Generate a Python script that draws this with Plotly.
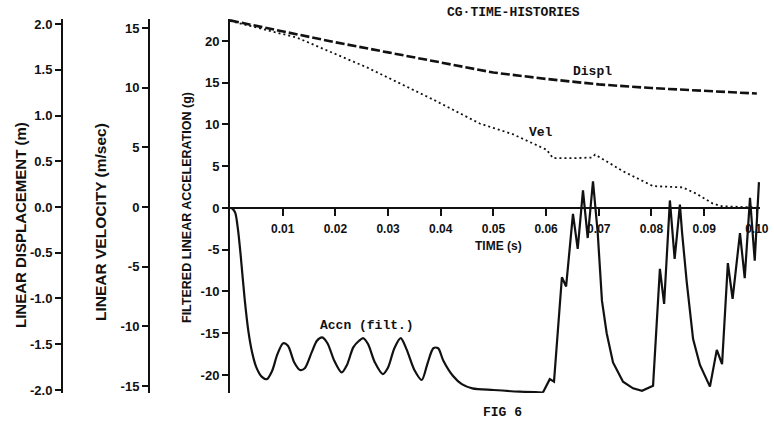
import plotly.graph_objects as go

# ---------------- data ----------------
time_ticks = [0.01, 0.02, 0.03, 0.04, 0.05, 0.06, 0.07, 0.08, 0.09, 0.10]
time_tick_text = ["0.01", "0.02", "0.03", "0.04", "0.05", "0.06", "0.07", "0.08", "0.09", "0.10"]

accel_ticks = [-20, -15, -10, -5, 0, 5, 10, 15, 20]
accel_tick_text = ["-20", "-15", "-10", "-5", "0", "5", "10", "15", "20"]
vel_ticks = [-15, -10, -5, 0, 5, 10, 15]
vel_tick_text = ["-15", "-10", "-5", "0", "5", "10", "15"]
disp_ticks = [-2.0, -1.5, -1.0, -0.5, 0.0, 0.5, 1.0, 1.5, 2.0]
disp_tick_text = ["-2.0", "-1.5", "-1.0", "-0.5", "0.0", "0.5", "1.0", "1.5", "2.0"]

# Displacement (m)
disp_t = [0.0, 0.01, 0.02, 0.03, 0.04, 0.05, 0.06, 0.07, 0.08, 0.09, 0.10]
disp_m = [2.04, 1.92, 1.80, 1.69, 1.58, 1.47, 1.40, 1.34, 1.30, 1.27, 1.24]

# Velocity (m/sec)
vel_t = [0.0, 0.0127, 0.026, 0.0386, 0.0474, 0.0537, 0.0601, 0.0613, 0.0657, 0.0687,
         0.0693, 0.0746, 0.0803, 0.0859, 0.0886, 0.0916, 0.0933, 0.1]
vel_ms = [15.6, 14.2, 11.7, 9.0, 7.0, 6.1, 4.8, 4.1, 4.1, 4.15,
          4.4, 3.0, 1.75, 1.65, 1.1, 0.30, 0.07, -0.05]

# Filtered acceleration (g) - smooth first part
acc1_t = [0.0, 0.0005, 0.001, 0.0015, 0.0020, 0.0028, 0.0035, 0.0042, 0.0050, 0.0060,
          0.0070, 0.0080, 0.0090, 0.0101, 0.0110, 0.0122, 0.0133, 0.0142, 0.0155, 0.0165,
          0.0175, 0.0185, 0.0198, 0.0212, 0.0222, 0.0234, 0.0245, 0.0253, 0.0262, 0.0275,
          0.0290, 0.0300, 0.0312, 0.0324, 0.0335, 0.0350, 0.0364, 0.0375, 0.0386, 0.0395,
          0.0405, 0.0423, 0.0440, 0.0460, 0.0500, 0.0550, 0.0594]
acc1_g = [0.0, -0.1, -0.6, -2.5, -5.5, -11.0, -14.8, -17.3, -19.1, -20.2,
          -20.5, -19.5, -17.5, -16.2, -16.5, -18.5, -19.4, -19.2, -17.3, -15.9,
          -15.5, -16.2, -18.3, -19.7, -18.8, -16.7, -15.9, -15.6, -16.3, -18.5,
          -19.9, -19.1, -16.8, -15.6, -16.9, -19.4, -20.6, -18.6, -16.8, -16.8,
          -18.3, -20.1, -21.1, -21.6, -21.8, -22.0, -22.1]

# Filtered acceleration (g) - spiky second part
acc2_t = [0.0594, 0.0607, 0.0615, 0.0630, 0.0638, 0.0651, 0.0660, 0.0670, 0.0679, 0.0689,
          0.0698, 0.0706, 0.0715, 0.0727, 0.0746, 0.0765, 0.0782, 0.0803, 0.0816, 0.0824,
          0.0835, 0.0844, 0.0854, 0.0858, 0.0867, 0.0879, 0.0892, 0.0911, 0.0924, 0.0934,
          0.0945, 0.0954, 0.0968, 0.0977, 0.0987, 0.0996, 0.1004]
acc2_g = [-22.1, -20.5, -20.8, -8.3, -9.4, -0.7, -4.9, 2.1, -3.6, 3.2,
          -3.0, -11.1, -15.0, -18.5, -20.8, -21.6, -21.9, -21.3, -7.3, -11.5,
          0.9, -6.1, 0.4, -2.9, -8.9, -15.7, -18.8, -21.4, -17.0, -18.7,
          -6.6, -10.9, -3.0, -8.4, 1.2, -6.3, 3.1]

# ---------------- figure ----------------
W, H = 774, 427
ML, MR, MT, MB = 0, 14, 19, 34
PW = W - ML - MR
PH = H - MT - MB


def px(x):
    return (x - ML) / PW


def py(y):
    return (H - MB - y) / PH


BLACK = "#111111"
sans = "Liberation Sans"
mono = "Liberation Mono"

fig = go.Figure()
fig.add_trace(go.Scatter(x=disp_t, y=disp_m, yaxis="y3", mode="lines",
                         line=dict(color=BLACK, width=2.6, dash="9px,3px"),
                         hoverinfo="skip", showlegend=False))
fig.add_trace(go.Scatter(x=vel_t, y=vel_ms, yaxis="y2", mode="lines",
                         line=dict(color=BLACK, width=1.8, dash="2px,3px"),
                         hoverinfo="skip", showlegend=False))
fig.add_trace(go.Scatter(x=acc1_t, y=acc1_g, yaxis="y", mode="lines",
                         line=dict(color=BLACK, width=2.2, shape="spline", smoothing=0.8),
                         hoverinfo="skip", showlegend=False))
fig.add_trace(go.Scatter(x=acc2_t, y=acc2_g, yaxis="y", mode="lines",
                         line=dict(color=BLACK, width=2.2),
                         hoverinfo="skip", showlegend=False))


def axis_common(ticklen=6):
    return dict(showline=True, linecolor=BLACK, linewidth=2, ticks="outside",
                tickcolor=BLACK, tickwidth=2, ticklen=ticklen, showgrid=False,
                zeroline=False, automargin=False)


fig.update_layout(
    template="none",
    width=W, height=H,
    margin=dict(l=ML, r=MR, t=MT, b=MB),
    paper_bgcolor="white", plot_bgcolor="white",
    showlegend=False,
    xaxis=dict(domain=[px(230), 1], range=[0, 0.1006], anchor="free",
               position=(H - MB - 208) / PH, side="bottom",
               tickvals=time_ticks, ticktext=time_tick_text,
               ticklabelstandoff=3,
               tickfont=dict(family=sans, size=12, color=BLACK, weight="bold"),
               **axis_common(7)),
    yaxis=dict(range=[-22.16, 22.63], anchor="x", side="left",
               tickvals=accel_ticks, ticktext=accel_tick_text,
               tickfont=dict(family=sans, size=13, color=BLACK, weight="bold"),
               **axis_common()),
    yaxis2=dict(range=[-15.59, 15.76], overlaying="y", anchor="free",
                position=px(149), side="left",
                tickvals=vel_ticks, ticktext=vel_tick_text,
                tickfont=dict(family=sans, size=13, color=BLACK, weight="bold"),
                **axis_common()),
    yaxis3=dict(range=[-2.033, 2.055], overlaying="y", anchor="free",
                position=px(62), side="left",
                tickvals=disp_ticks, ticktext=disp_tick_text,
                tickfont=dict(family=sans, size=13, color=BLACK, weight="bold"),
                **axis_common()),
)


def note(text, x, y, family, size, angle=0):
    fig.add_annotation(text=text, x=px(x), y=py(y), xref="paper", yref="paper",
                       showarrow=False, textangle=angle, xanchor="center", yanchor="middle",
                       font=dict(family=family, size=size, color=BLACK, weight="bold"))


note("CG·TIME-HISTORIES", 513, 13, mono, 13)
note("Displ", 592, 71, mono, 13)
note("Vel", 541, 132, mono, 13)
note("Accn (filt.)", 367, 325, mono, 13)
note("FIG 6", 502, 412, mono, 13)
note("TIME (s)", 498, 246, sans, 12)
note("LINEAR DISPLACEMENT (m)", 20, 225, sans, 15, -90)
note("LINEAR VELOCITY (m/sec)", 101, 222, sans, 15.5, -90)
note("FILTERED LINEAR ACCELERATION (g)", 187, 208, sans, 12.5, -90)

fig.write_html("out.html",
               config={"displayModeBar": False, "staticPlot": True},
               post_script="document.body.style.margin='0';document.body.style.overflow='hidden';")
